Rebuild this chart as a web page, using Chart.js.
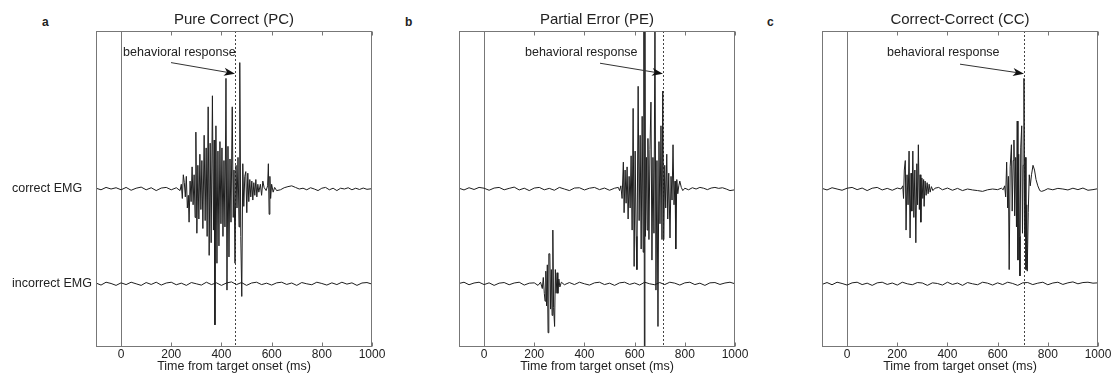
<!DOCTYPE html>
<html>
<head>
<meta charset="utf-8">
<script src="https://cdn.jsdelivr.net/npm/chart.js@4.4.1/dist/chart.umd.min.js"></script>
<style>
  body { margin: 0; background: #fff; width: 1115px; height: 374px; overflow: hidden; position: relative; font-family: "Liberation Sans", Arial, sans-serif; }
  canvas { position: absolute; top: 0; }
  .letter { position: absolute; top: 15px; font-weight: bold; font-size: 12px; color: #222; }
</style>
</head>
<body>
<div class="letter" style="left:42px">a</div>
<div class="letter" style="left:405px">b</div>
<div class="letter" style="left:767px">c</div>
<canvas id="pc" width="392" height="374" style="left:0px"></canvas>
<canvas id="pe" width="371" height="374" style="left:384px"></canvas>
<canvas id="cc" width="361" height="374" style="left:754px"></canvas>
<script>
// titles, tick labels, response times (ms)
const titles = ["Pure Correct (PC)", "Partial Error (PE)", "Correct-Correct (CC)"];
const xTicks = [0, 200, 400, 600, 800, 1000];
const rtTimes = [454, 713, 705];
const traceLabels = ["correct EMG", "incorrect EMG"];

// EMG traces as [time ms, amplitude]
const pcCorrect = [
  [-100,0.05],[-80,-0.05],[-60,0.1],[-40,0],[-20,0.08],[0,-0.05],[20,0.1],[40,-0.08],[60,0.05],[80,0.12],
  [100,-0.05],[120,0.08],[140,-0.1],[160,0.06],[180,0.1],[200,-0.05],[220,0.08],[235,-0.1],
  [240,0.3],[244,-0.6],[248,0.9],[252,0.4],[256,-0.5],[260,0.8],[264,-1.2],[268,-0.4],[271,-2.1],[275,0.5],
  [279,-0.8],[283,1.4],[287,-1.0],[291,0.9],[295,-1.8],[298,3.6],[302,-2.8],[306,1.5],[310,-1.9],[314,2.2],
  [318,-1.3],[322,1.8],[326,-2.5],[331,3.4],[335,-2.0],[339,2.6],[343,-3.0],[347,5.2],[351,-4.2],[355,2.9],
  [359,-3.4],[364,5.9],[368,-2.6],[371,3.1],[374,-8.6],[378,4.0],[382,-4.7],[386,2.4],[390,-3.6],[394,3.0],
  [398,-2.2],[402,2.6],[406,-3.0],[410,1.8],[414,-2.4],[418,7.0],[422,-6.4],[426,2.7],[430,-4.3],[434,1.9],
  [438,-2.1],[443,5.2],[447,-1.8],[450,1.2],[454,-4.7],[458,1.5],[462,-1.2],[466,2.0],[470,-2.4],[473,8.0],
  [477,-3.0],[481,-6.8],[485,1.6],[489,-1.1],[493,0.8],[497,1.1],[501,-1.5],[505,1.0],[509,-0.8],[513,0.6],
  [517,-0.5],[521,0.5],[525,-0.7],[529,0.4],[533,-0.4],[537,0.6],[541,-0.5],[545,0.3],[549,-0.2],[555,0.3],
  [560,-0.4],[565,0.5],[570,0.1],[578,-0.1],[584,0.2],[587,1.6],[590,-1.6],[593,0.8],[596,-0.6],[600,0.3],
  [606,-0.2],[612,0.1],[620,-0.1],[635,-0.05],[650,0.08],[665,0.15],[680,0.2],[695,0.1],[710,0],[725,0.05],
  [740,-0.05],[755,0.08],[770,0],[785,-0.1],[800,0.05],[815,0.1],[830,-0.05],[845,0.05],[860,-0.1],[875,0.05],
  [890,0],[905,0.08],[920,-0.05],[935,0.05],[950,-0.03],[965,0.06],[980,-0.02],[1000,0.02]
];
const pcIncorrect = [
  [-100,0.05],[-80,-0.08],[-60,0.1],[-40,0.02],[-20,-0.1],[0,0.06],[20,-0.05],[40,0.1],[60,0],[80,-0.1],
  [100,0.08],[120,-0.04],[140,0.1],[160,-0.08],[180,0.05],[200,0.1],[220,-0.06],[240,0.04],[260,-0.1],[280,0.08],
  [300,0],[320,-0.08],[340,0.1],[360,-0.05],[380,0.06],[400,-0.1],[420,0.05],[440,0.12],[460,-0.05],[480,0.08],
  [500,-0.1],[520,0.05],[540,0.1],[560,-0.05],[580,0.04],[600,-0.08],[620,0.06],[640,0.1],[660,-0.04],[680,0.05],
  [700,-0.1],[720,0.08],[740,0],[760,-0.06],[780,0.1],[800,0.02],[820,-0.08],[840,0.06],[860,-0.05],[880,0.1],
  [900,-0.02],[920,0.06],[940,-0.1],[960,0.05],[980,0.08],[1000,-0.02]
];
const peCorrect = [
  [-100,0.05],[-80,-0.06],[-60,0.08],[-40,-0.03],[-20,0.1],[0,0.05],[20,-0.08],[40,0.06],[60,0.1],[80,-0.05],
  [100,0.04],[120,0.12],[140,-0.06],[160,0.05],[180,-0.1],[200,0.06],[220,0.1],[240,-0.05],[260,0.04],[280,-0.08],
  [300,0.1],[320,0],[340,-0.1],[360,0.06],[380,0.08],[400,-0.06],[420,0.05],[440,0.1],[460,-0.04],[480,0.06],
  [500,-0.08],[520,0.05],[535,0.1],[540,-0.1],
  [545,0.2],[550,-0.6],[555,1.7],[558,-1.5],[562,1.2],[566,-0.9],[570,1.4],[574,-1.9],[578,0.8],[582,-1.2],
  [586,2.1],[590,-2.6],[594,5.1],[598,-4.9],[602,2.4],[606,-3.0],[609,-5.1],[614,6.5],[618,-2.0],[622,3.4],
  [626,-3.8],[630,4.6],[634,-4.0],[637,12],[639,-12],[641,12],[643,-3.0],[647,2.0],[650,-2.6],[653,3.2],
  [657,-3.2],[661,2.5],[665,5.5],[669,-4.5],[673,2.0],[677,-2.8],[681,11],[685,-6.4],[689,1.8],[693,-8.7],
  [697,3.0],[701,-2.2],[705,4.0],[709,-3.2],[712,6.2],[716,-3.2],[720,1.5],[724,-1.2],[728,2.2],[732,-1.9],
  [736,1.0],[741,-3.1],[745,0.8],[749,-0.7],[753,2.8],[757,-1.0],[761,0.5],[764,-3.8],[768,0.6],[772,-0.3],
  [776,0.2],[780,0.5],[786,0.1],[792,-0.1],
  [800,0.05],[815,-0.05],[830,0.08],[845,0],[860,0.1],[875,0.05],[890,-0.04],[905,0.06],[920,0.1],[935,0.04],
  [950,0.08],[965,0],[980,-0.1],[1000,-0.05]
];
const peIncorrect = [
  [-100,0.02],[-80,0.1],[-60,-0.06],[-40,0.05],[-20,0.1],[0,-0.05],[20,0.06],[40,-0.1],[60,0.04],[80,0.08],
  [100,-0.06],[120,0.05],[140,0.1],[160,-0.08],[180,0.04],[200,0.06],[215,-0.1],
  [225,0.1],[232,-0.3],[236,0.4],[240,-0.6],[243,-1.1],[246,0.8],[249,-1.4],[252,1.2],[255,-3.1],[258,1.9],
  [262,1.9],[265,-1.6],[268,0.9],[271,-2.0],[274,3.4],[277,-1.5],[281,-2.7],[284,0.9],[287,-0.6],[291,0.7],
  [294,-0.6],[298,0.3],[302,-0.2],[308,0.1],
  [320,-0.06],[340,0.08],[360,-0.05],[380,0.1],[400,0],[420,-0.08],[440,0.06],[460,0.1],[480,-0.05],[500,0.04],
  [520,-0.1],[540,0.06],[560,0.1],[580,-0.04],[600,0.05],[620,-0.08],[640,0.1],[660,0],[680,-0.06],[700,0.08],
  [720,-0.05],[740,0.1],[760,0.04],[780,-0.08],[800,0.06],[820,0.1],[840,-0.05],[860,0.04],[880,-0.1],[900,0.06],
  [920,0.08],[940,-0.04],[960,0.05],[980,0.1],[1000,0]
];
const ccCorrect = [
  [-100,0.04],[-80,-0.06],[-60,0.08],[-40,0],[-20,-0.08],[0,0.05],[20,0.1],[40,-0.04],[60,0.06],[80,-0.1],
  [100,0.05],[120,0.1],[140,-0.06],[160,0.04],[180,-0.08],[200,0.06],[215,0],
  [222,0.2],[225,-0.6],[228,1.2],[232,1.8],[235,-2.6],[239,0.9],[243,-1.0],[247,2.4],[251,-3.1],[255,1.0],
  [258,-1.4],[262,2.4],[266,-1.8],[270,1.2],[274,-3.4],[278,1.6],[281,-1.0],[284,2.8],[288,-1.3],[291,0.9],
  [294,-2.1],[298,0.7],[302,-0.6],[305,0.6],[307,-1.1],[311,0.5],[315,-0.4],[319,0.4],[323,-0.3],[327,0.3],
  [331,-0.2],[336,0.15],[342,-0.1],[350,0.05],
  [365,0.1],[380,-0.05],[400,0.06],[420,-0.08],[440,0.04],[460,-0.1],[480,0],[500,-0.06],[520,-0.1],[540,-0.15],
  [560,-0.05],[580,0],[600,-0.04],[615,0.05],[622,-0.05],
  [628,0.2],[632,-0.5],[636,1.7],[640,-1.2],[643,0.8],[646,-5.1],[650,1.4],[655,2.8],[658,-1.4],[662,1.8],
  [665,3.1],[668,-1.7],[672,2.0],[675,-2.4],[678,4.3],[681,-4.5],[684,2.2],[687,-3.0],[689,-5.5],[692,2.6],
  [696,4.0],[699,-2.8],[702,1.5],[705,7.0],[708,-3.0],[710,2.0],[713,-5.1],[716,-1.0],[718,-5.2],[722,-1.5],
  [726,0.9],[730,0.2],[735,0.9],[741,1.5],[747,1.2],[753,0.6],[760,0.2],[768,-0.1],[775,-0.15],[785,-0.1],
  [800,0.02],[820,-0.05],[840,0.04],[860,0],[880,-0.06],[900,0.05],[920,-0.04],[940,0.06],[960,-0.08],[980,-0.04],
  [1000,0.02]
];
const ccIncorrect = [
  [-100,-0.04],[-80,0.08],[-60,-0.06],[-40,0.1],[-20,0.02],[0,-0.08],[20,0.06],[40,0.1],[60,-0.05],[80,0.04],
  [100,-0.1],[120,0.06],[140,0.1],[160,-0.04],[180,0.05],[200,-0.08],[220,0.1],[240,0],[260,-0.06],[280,0.08],
  [300,0.05],[320,-0.1],[340,0.06],[360,0.02],[380,-0.08],[400,0.1],[420,-0.04],[440,0.05],[460,-0.1],[480,0.08],
  [500,0],[520,-0.06],[540,0.1],[560,0.04],[580,-0.08],[600,0.06],[620,-0.05],[640,0.1],[660,0.02],[680,-0.1],
  [700,0.06],[720,0.08],[740,-0.05],[760,0.04],[780,0.1],[800,-0.06],[820,0.05],[840,0.1],[860,-0.04],[880,0.06],
  [900,0.12],[920,0],[940,0.08],[960,0.1],[980,0.04],[1000,0.06]
];

const incorrectOffset = -6;
const font = '"Liberation Sans", Arial, sans-serif';
const ink = '#222';

const panels = [
  { id: 'pc', correct: pcCorrect, incorrect: pcIncorrect, padL: 96, padR: 20, labels: true,
    text: [8, 8.66], from: [199, 8.0], to: [454, 7.3] },
  { id: 'pe', correct: peCorrect, incorrect: peIncorrect, padL: 75, padR: 20, labels: false,
    text: [163, 8.66], from: [462, 7.96], to: [713, 7.3] },
  { id: 'cc', correct: ccCorrect, incorrect: ccIncorrect, padL: 68, padR: 17, labels: false,
    text: [159, 8.66], from: [450, 7.9], to: [705, 7.3] }
];

function seg(ctx, x1, y1, x2, y2) {
  ctx.beginPath(); ctx.moveTo(x1, y1); ctx.lineTo(x2, y2); ctx.stroke();
}

// frame, zero line, response line, arrow and texts
const decor = {
  id: 'decor',
  beforeDatasetsDraw(chart, args, o) {
    const { ctx, chartArea: a, scales: { x } } = chart;
    ctx.save();
    ctx.lineWidth = 1;
    ctx.strokeStyle = '#777';
    const x0 = Math.round(x.getPixelForValue(0)) + 0.5;
    seg(ctx, x0, a.top, x0, a.bottom);
    ctx.strokeStyle = '#444';
    ctx.setLineDash([2, 2]);
    const xr = Math.round(x.getPixelForValue(o.rt)) + 0.5;
    seg(ctx, xr, a.top, xr, a.bottom);
    ctx.restore();
  },
  afterDatasetsDraw(chart, args, o) {
    const { ctx, chartArea: a, scales: { x, y } } = chart;
    ctx.save();
    ctx.lineWidth = 1;
    ctx.strokeStyle = '#777';
    const L = Math.round(a.left) + 0.5, R = Math.round(a.right) - 0.5;
    const T = Math.round(a.top) + 0.5, B = Math.round(a.bottom) - 0.5;
    ctx.strokeRect(L, T, R - L, B - T);
    xTicks.forEach(v => {
      const px = Math.round(x.getPixelForValue(v)) + 0.5;
      seg(ctx, px, B, px, B - 4);
      seg(ctx, px, T, px, T + 4);
    });

    // arrow
    const fx = x.getPixelForValue(o.from[0]), fy = y.getPixelForValue(o.from[1]);
    const tx = x.getPixelForValue(o.to[0]), ty = y.getPixelForValue(o.to[1]);
    const ang = Math.atan2(ty - fy, tx - fx);
    ctx.strokeStyle = '#333';
    seg(ctx, fx, fy, tx - 8 * Math.cos(ang), ty - 8 * Math.sin(ang));
    ctx.fillStyle = '#111';
    ctx.beginPath();
    ctx.moveTo(tx, ty);
    ctx.lineTo(tx - 11 * Math.cos(ang) + 4 * Math.sin(ang), ty - 11 * Math.sin(ang) - 4 * Math.cos(ang));
    ctx.lineTo(tx - 8 * Math.cos(ang), ty - 8 * Math.sin(ang));
    ctx.lineTo(tx - 11 * Math.cos(ang) - 4 * Math.sin(ang), ty - 11 * Math.sin(ang) + 4 * Math.cos(ang));
    ctx.closePath();
    ctx.fill();

    ctx.fillStyle = ink;
    ctx.textBaseline = 'middle';
    ctx.textAlign = 'left';
    ctx.font = '12.5px ' + font;
    ctx.fillText('behavioral response', x.getPixelForValue(o.text[0]), y.getPixelForValue(o.text[1]));

    ctx.textAlign = 'center';
    ctx.font = '15px ' + font;
    ctx.fillText(o.title, (a.left + a.right) / 2, 20);

    if (o.labels) {
      ctx.textAlign = 'left';
      ctx.font = '12.5px ' + font;
      ctx.fillText(traceLabels[0], 12, y.getPixelForValue(0));
      ctx.fillText(traceLabels[1], 12, y.getPixelForValue(incorrectOffset));
    }
    ctx.restore();
  }
};

panels.forEach((p, i) => {
  const toPts = (arr, off) => arr.map(d => ({ x: d[0], y: d[1] + off }));
  const line = (arr, off) => ({
    data: toPts(arr, off),
    borderColor: '#1e1e1e',
    borderWidth: 1,
    pointRadius: 0,
    tension: 0,
    fill: false,
    clip: 0
  });
  new Chart(document.getElementById(p.id), {
    type: 'line',
    data: { datasets: [line(p.correct, 0), line(p.incorrect, incorrectOffset)] },
    options: {
      responsive: false,
      animation: false,
      devicePixelRatio: 1,
      layout: { padding: { left: p.padL, right: p.padR, top: 31, bottom: 5 } },
      plugins: {
        legend: { display: false },
        tooltip: { enabled: false },
        decor: { title: titles[i], rt: rtTimes[i], labels: p.labels, text: p.text, from: p.from, to: p.to }
      },
      scales: {
        x: {
          type: 'linear',
          min: -100,
          max: 1000,
          afterBuildTicks: s => { s.ticks = xTicks.map(v => ({ value: v })); },
          grid: { display: false, drawTicks: false },
          border: { display: false },
          ticks: { color: ink, padding: 2, maxRotation: 0, callback: v => String(v),
                   font: { family: font, size: 12, lineHeight: 1 } },
          title: { display: true, text: 'Time from target onset (ms)', color: ink, padding: { top: 1, bottom: 0 },
                   font: { family: font, size: 12.5, lineHeight: 0.4 } }
        },
        y: { type: 'linear', min: -10, max: 10, display: false }
      }
    },
    plugins: [decor]
  });
});
</script>
</body>
</html>
